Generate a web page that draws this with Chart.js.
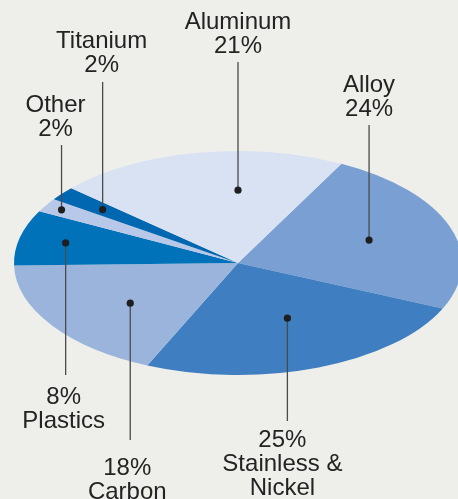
<!DOCTYPE html>
<html>
<head>
<meta charset="utf-8">
<script src="https://cdn.jsdelivr.net/npm/chart.js@4/dist/chart.umd.min.js"></script>
<style>
  html, body { margin: 0; padding: 0; background: #eeefeb; }
  #wrap { width: 458px; height: 499px; }
</style>
</head>
<body>
<div id="wrap"><canvas id="pie" width="458" height="499"></canvas></div>
<script>
// material share, clockwise from the upper right
const materials = ['Alloy', 'Stainless &\nNickel', 'Carbon', 'Plastics', 'Other', 'Titanium', 'Aluminum'];
const shares = [24, 25, 18, 8, 2, 2, 21];
const sliceColors = ['#7a9fd2', '#3f7fc1', '#9ab4dc', '#0072b9', '#b8c8e8', '#0067b0', '#d9e2f3'];

// leader layout: where the dot sits inside each slice, and where the text goes
const dotDepth  = [0.62, 0.54, 0.60, 0.79, 0.92, 0.77, 0.65];
const dotShift  = [0, -3, -3, 0, 0, 0, 10.3];   // degrees off the slice middle
const lineEnd   = [125, 421, 440, 375, 145, 82, 62];
const firstLine = [92, 447, 475, 404, 112, 48, 29];
const textShift = [0, -5, -3, -2, -6, -1, 0];
const pctFirst  = [false, true, true, true, false, false, false];

const SQUASH = 0.5;   // vertical flattening of the pie
const LINE_H = 24;

const flatten = {
  id: 'flatten',
  beforeDatasetsDraw(chart) {
    const arc = chart.getDatasetMeta(0).data[0];
    const ctx = chart.ctx;
    ctx.save();
    ctx.translate(arc.x, arc.y);
    ctx.scale(1, SQUASH);
    ctx.translate(-arc.x, -arc.y);
  },
  afterDatasetsDraw(chart) {
    chart.ctx.restore();
  }
};

const leaders = {
  id: 'leaders',
  afterDraw(chart) {
    const ctx = chart.ctx;
    const meta = chart.getDatasetMeta(0);
    ctx.save();
    ctx.font = '24px "Liberation Sans", Arial, sans-serif';
    ctx.textAlign = 'center';
    ctx.textBaseline = 'alphabetic';
    meta.data.forEach((arc, i) => {
      const p = arc.getProps(['x', 'y', 'startAngle', 'endAngle', 'outerRadius'], true);
      const a = (p.startAngle + p.endAngle) / 2 + dotShift[i] * Math.PI / 180;
      const r = p.outerRadius * dotDepth[i];
      const dx = p.x + Math.cos(a) * r;
      const dy = p.y + Math.sin(a) * r * SQUASH;

      ctx.strokeStyle = '#4a4a4a';
      ctx.lineWidth = 1.3;
      ctx.beginPath();
      ctx.moveTo(dx, dy);
      ctx.lineTo(dx, lineEnd[i]);
      ctx.stroke();

      ctx.fillStyle = '#1e1e1e';
      ctx.beginPath();
      ctx.arc(dx, dy, 3.6, 0, Math.PI * 2);
      ctx.fill();

      const name = materials[i].split('\n');
      const pct = shares[i] + '%';
      const rows = pctFirst[i] ? [pct, ...name] : [...name, pct];
      ctx.fillStyle = '#232323';
      rows.forEach((t, k) => ctx.fillText(t, dx + textShift[i], firstLine[i] + k * LINE_H));
    });
    ctx.restore();
  }
};

new Chart(document.getElementById('pie'), {
  type: 'pie',
  data: {
    labels: materials,
    datasets: [{
      data: shares,
      backgroundColor: sliceColors,
      borderWidth: 0,
      radius: 224,
      clip: false
    }]
  },
  options: {
    responsive: false,
    animation: false,
    events: [],
    rotation: 27.5,
    layout: { padding: { left: 18, top: 27 } },
    plugins: { legend: { display: false }, tooltip: { enabled: false } }
  },
  plugins: [flatten, leaders]
});
</script>
</body>
</html>
